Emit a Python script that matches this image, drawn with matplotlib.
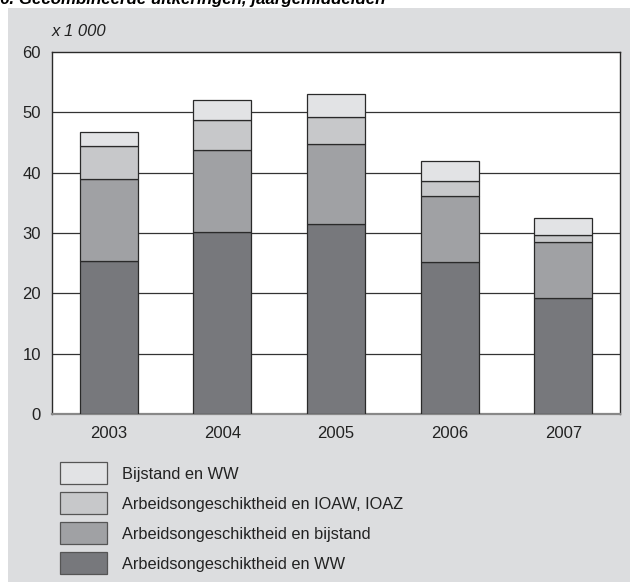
import numpy as np
import matplotlib.pyplot as plt
from matplotlib.patches import Rectangle

plt.rcParams['font.family'] = ['Liberation Sans', 'DejaVu Sans']

years = ['2003', '2004', '2005', '2006', '2007']
# x 1 000, bottom to top
ao_ww = [25.4, 30.1, 31.5, 25.2, 19.2]
ao_bijstand = [13.5, 13.6, 13.2, 10.9, 9.3]
ao_ioaw = [5.5, 5.0, 4.5, 2.5, 1.2]
bijstand_ww = [2.4, 3.3, 3.9, 3.3, 2.8]

series = [ao_ww, ao_bijstand, ao_ioaw, bijstand_ww]
labels = ['Arbeidsongeschiktheid en WW', 'Arbeidsongeschiktheid en bijstand',
          'Arbeidsongeschiktheid en IOAW, IOAZ', 'Bijstand en WW']
colors = ['#77787c', '#a0a1a4', '#c7c8ca', '#e2e3e5']
bg = '#dcdddf'

fig = plt.figure(figsize=(6.3, 5.82), dpi=100, facecolor='white')
# grey panel behind everything
fig.patches.append(Rectangle((8/630, 0), 1 - 8/630, 1 - 8/582, transform=fig.transFigure,
                             facecolor=bg, edgecolor='none', zorder=-10))

# title is cropped at the top edge, as in the source
fig.text(0.0, 1 - 4/582, '6. Gecombineerde uitkeringen, jaargemiddelden',
         fontsize=12.2, fontweight='bold', fontstyle='italic', va='baseline', ha='left')

ax = fig.add_axes([52/630, 1 - 414/582, 568/630, 362/582])
ax.set_facecolor('white')

x = np.arange(len(years))
bottom = np.zeros(len(years))
for vals, c in zip(series, colors):
    ax.bar(x, vals, width=0.51, bottom=bottom, color=c, edgecolor='#2a2a2a',
           linewidth=0.9, zorder=3)
    bottom += np.array(vals)

ax.set_xlim(-0.5, 4.5)
ax.set_ylim(0, 60)
ax.set_yticks(range(0, 61, 10))
ax.set_xticks(x)
ax.set_xticklabels(years)
ax.tick_params(length=0, labelsize=12, colors='#222222')
ax.tick_params(axis='y', pad=8)
ax.tick_params(axis='x', pad=9)
for yv in range(10, 60, 10):
    ax.axhline(yv, color='#333333', linewidth=0.9, zorder=1)

for s in ['top', 'left', 'right']:
    ax.spines[s].set_color('#2a2a2a')
    ax.spines[s].set_linewidth(1.0)
ax.spines['bottom'].set_color('#888888')
ax.spines['bottom'].set_linewidth(1.6)

fig.text(52/630, 1 - 31/582, 'x 1 000', fontsize=12, fontstyle='italic',
         va='center', ha='left', color='#222222')

# legend, lightest on top
for i, (lab, c) in enumerate(zip(labels[::-1], colors[::-1])):
    y_top = 462 + i * 30
    fig.patches.append(Rectangle((60/630, 1 - (y_top + 22)/582), 47/630, 22/582,
                                 transform=fig.transFigure, facecolor=c,
                                 edgecolor='#555555', linewidth=0.9))
    fig.text(122/630, 1 - (y_top + 13)/582, lab, fontsize=11.8, va='center',
             ha='left', color='#222222')

fig.savefig('out.png', dpi=100, facecolor=fig.get_facecolor())
